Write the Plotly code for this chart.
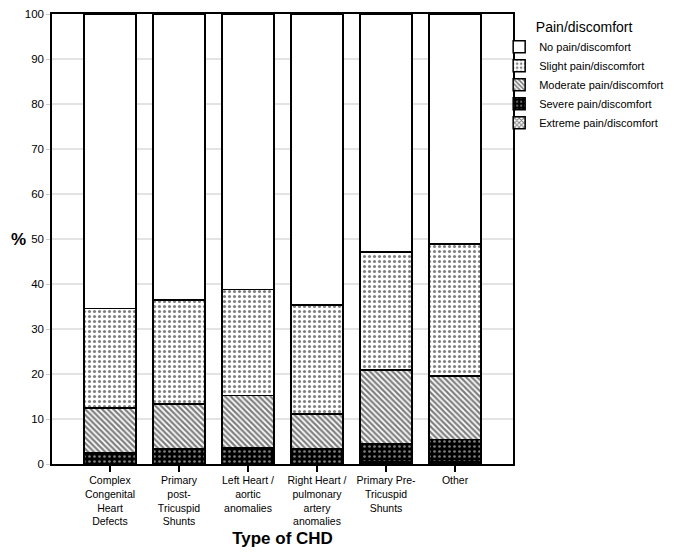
import plotly.graph_objects as go

categories = [
    "Complex<br>Congenital<br>Heart<br>Defects",
    "Primary<br>post-<br>Tricuspid<br>Shunts",
    "Left Heart /<br>aortic<br>anomalies",
    "Right Heart /<br>pulmonary<br>artery<br>anomalies",
    "Primary Pre-<br>Tricuspid<br>Shunts",
    "Other",
]
extreme = [0.0, 0.0, 0.0, 0.0, 0.4, 0.4]
severe = [2.5, 3.3, 3.7, 3.5, 4.2, 5.1]
moderate = [10.0, 10.0, 11.5, 7.6, 16.3, 14.1]
slight = [22.1, 23.1, 23.6, 24.2, 26.2, 29.3]
no_pain = [65.4, 63.6, 61.2, 64.7, 52.9, 51.1]
y_ticks = [0, 10, 20, 30, 40, 50, 60, 70, 80, 90, 100]

series = [
    ("Extreme pain/discomfort", extreme, dict(shape="x", bgcolor="white", fgcolor="black", size=4, solidity=0.5)),
    ("Severe pain/discomfort", severe, dict(shape=".", bgcolor="black", fgcolor="white", size=5, solidity=0.22)),
    ("Moderate pain/discomfort", moderate, dict(shape="\\", bgcolor="white", fgcolor="black", size=4, solidity=0.55)),
    ("Slight pain/discomfort", slight, dict(shape=".", bgcolor="white", fgcolor="black", size=5, solidity=0.3)),
    ("No pain/discomfort", no_pain, dict(shape="", bgcolor="white", fgcolor="black")),
]

fig = go.Figure()
x = list(range(len(categories)))
for name, vals, pat in series:
    fig.add_trace(go.Bar(
        x=x, y=vals, name=name, width=0.754,
        marker=dict(color=pat["bgcolor"], line=dict(color="black", width=1.5), pattern=pat),
    ))

font_family = "Liberation Sans, Arial, sans-serif"
fig.update_layout(
    width=658, height=540,
    barmode="stack",
    plot_bgcolor="white", paper_bgcolor="white",
    margin=dict(l=44, r=153, t=6, b=84, autoexpand=False),
    font=dict(family=font_family, size=12, color="black"),
    legend=dict(
        title=dict(text="Pain/discomfort", side="top center", font=dict(size=14)),
        traceorder="reversed",
        x=0.97, xanchor="left", y=1.0, yanchor="top",
        font=dict(size=11),
        itemwidth=30,
        bgcolor="rgba(0,0,0,0)",
    ),
    xaxis=dict(
        tickmode="array", tickvals=x, ticktext=categories,
        range=[-0.84, 5.84],
        showline=True, linecolor="black", linewidth=1.5, mirror=True,
        ticks="outside", ticklen=6, tickcolor="black", tickwidth=1.5,
        showgrid=False, tickangle=0, automargin=False,
        tickfont=dict(size=10.5),
        title=dict(text="<b>Type of CHD</b>", font=dict(size=17), standoff=15),
    ),
    yaxis=dict(
        range=[0, 100], tickvals=y_ticks,
        showline=True, linecolor="black", linewidth=1.5, mirror=True,
        ticks="outside", ticklen=4, tickcolor="#cccccc",
        showgrid=True, gridcolor="#e3e3e3", gridwidth=1.5,
        tickfont=dict(size=11.5), automargin=False,
        ticklabeloverflow="allow",
        zeroline=False,
    ),
    annotations=[dict(
        text="<b>%</b>", xref="paper", yref="paper", x=-0.094, y=0.5,
        xanchor="left", yanchor="middle", showarrow=False, font=dict(size=17),
    )],
)

fig.write_html("out.html")
